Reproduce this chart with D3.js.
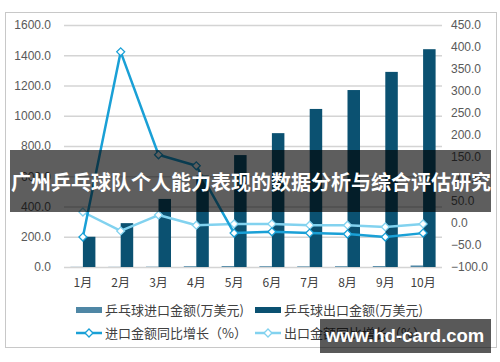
<!DOCTYPE html>
<html><head><meta charset="utf-8">
<script src="https://cdn.jsdelivr.net/npm/d3@7"></script>
<style>body{margin:0;background:#fff}svg{display:block}</style>
</head><body>
<script>
const categories = ["1月","2月","3月","4月","5月","6月","7月","8月","9月","10月"];
const importAmount = [1,1,2,5,6,5,4,5,6,10];
const exportAmount = [200,290,450,605,740,885,1045,1170,1290,1440];
const importGrowth = [-32,389,155,130,-23,-20,-23,-25,-32,-23];
const exportGrowth = [25,-18,18,-5,-2,-2,-5,-5,-9,-2];
const leftTicks = [0,200,400,600,800,1000,1200,1400,1600];
const rightTicks = [-100,-50,0,50,100,150,200,250,300,350,400,450];
const seriesNames = ["乒乓球进口金额(万美元)","乒乓球出口金额(万美元)","进口金额同比增长（%）","出口金额同比增长（%）"];
const title = "广州乒乓球队个人能力表现的数据分析与综合评估研究";
const watermark = "www.hd-card.com";

const colors = {imp:"#4f87a5", exp:"#0b5171", impLine:"#1aa0d6", expLine:"#82d2ef"};
const W=500,H=362;
const svg=d3.select("body").append("svg").attr("width",W).attr("height",H);
const latin="'Liberation Sans', Arial, sans-serif";
const cjk="'Noto Sans CJK SC', sans-serif";

svg.append("rect").attr("x",5.5).attr("y",12.5).attr("width",491).attr("height",335)
  .attr("fill","#fff").attr("stroke","#c8c8c8");

const x0=64,x1=442,yTop=25,yBot=267;
const x=d3.scaleBand().domain(categories).range([x0,x1]).padding(0);
const yL=d3.scaleLinear().domain([0,1600]).range([yBot,yTop]);
const yR=d3.scaleLinear().domain([-100,450]).range([yBot,yTop]);
const xs=d3.scaleBand().domain(["imp","exp"]).range([-12.5,12.5]).padding(0);

// grid
const grid=svg.append("g").attr("transform",`translate(${x0},0)`)
  .call(d3.axisLeft(yL).tickValues(leftTicks).tickSize(-(x1-x0)).tickFormat(""));
grid.select(".domain").remove();
grid.selectAll("line").attr("stroke","#d4d4d4").attr("stroke-width",1.5);

// left axis labels
const gl=svg.append("g").attr("transform",`translate(51,0)`)
  .call(d3.axisLeft(yL).tickValues(leftTicks).tickSize(0).tickPadding(0).tickFormat(d3.format(".1f")));
gl.select(".domain").remove();
gl.selectAll("text").attr("font-family",latin).attr("font-size",12).attr("fill","#595959");

const gr=svg.append("g").attr("transform",`translate(451,0)`)
  .call(d3.axisRight(yR).tickValues(rightTicks).tickSize(0).tickPadding(0).tickFormat(d3.format(".1f")));
gr.select(".domain").remove();
gr.selectAll("text").attr("font-family",latin).attr("font-size",12).attr("fill","#595959");

// x axis labels
const gx=svg.append("g").attr("transform",`translate(0,${yBot})`)
  .call(d3.axisBottom(x).tickSize(0).tickPadding(11));
gx.select(".domain").remove();
gx.selectAll("text").attr("font-family",cjk).attr("font-size",12).attr("fill","#404040");

// bars
const cx=d=>x(d)+x.bandwidth()/2;
svg.append("g").selectAll("rect").data(categories).join("rect")
  .attr("x",(d)=>cx(d)+xs("imp")).attr("width",xs.bandwidth())
  .attr("y",(d,i)=>yL(importAmount[i])).attr("height",(d,i)=>yBot-yL(importAmount[i]))
  .attr("fill",colors.imp);
svg.append("g").selectAll("rect").data(categories).join("rect")
  .attr("x",(d)=>cx(d)+xs("exp")).attr("width",xs.bandwidth())
  .attr("y",(d,i)=>yL(exportAmount[i])).attr("height",(d,i)=>yBot-yL(exportAmount[i]))
  .attr("fill",colors.exp);

// lines
const diamond=d3.symbol().type(d3.symbolDiamond2).size(40);
function drawLine(vals,color){
  const line=d3.line().x((d,i)=>cx(categories[i])).y(d=>yR(d));
  svg.append("path").datum(vals).attr("d",line).attr("fill","none")
    .attr("stroke",color).attr("stroke-width",2.5).attr("stroke-linejoin","round");
  svg.append("g").selectAll("path").data(vals).join("path")
    .attr("transform",(d,i)=>`translate(${cx(categories[i])},${yR(d)})`)
    .attr("d",diamond).attr("fill","#fff").attr("stroke",color).attr("stroke-width",1.3);
}
drawLine(exportGrowth,colors.expLine);
drawLine(importGrowth,colors.impLine);

// legend
const leg=svg.append("g").attr("font-family",cjk).attr("font-size",13).attr("fill","#404040");
const legItems=[
  {x:76,y:310,type:"bar",color:colors.imp,name:seriesNames[0]},
  {x:255,y:310,type:"bar",color:colors.exp,name:seriesNames[1]},
  {x:76,y:333,type:"line",color:colors.impLine,name:seriesNames[2]},
  {x:255,y:333,type:"line",color:colors.expLine,name:seriesNames[3]}
];
legItems.forEach(it=>{
  if(it.type==="bar"){
    leg.append("rect").attr("x",it.x).attr("y",it.y-3).attr("width",26).attr("height",6).attr("fill",it.color);
  } else {
    leg.append("line").attr("x1",it.x).attr("x2",it.x+26).attr("y1",it.y).attr("y2",it.y)
      .attr("stroke",it.color).attr("stroke-width",2.5);
    leg.append("path").attr("transform",`translate(${it.x+13},${it.y})`).attr("d",diamond)
      .attr("fill","#fff").attr("stroke",it.color).attr("stroke-width",1.3);
  }
  leg.append("text").attr("x",it.x+29).attr("y",it.y).attr("dy","0.35em").text(it.name);
});

// banner
svg.append("rect").attr("x",10).attr("y",150).attr("width",481).attr("height",62).attr("fill","rgba(0,0,0,0.63)");
svg.append("text").attr("x",251).attr("y",183).attr("dy","0.35em").attr("text-anchor","middle")
  .attr("font-family",cjk).attr("font-weight","bold").attr("font-size",20).attr("fill","#fff").text(title);

// watermark
svg.append("rect").attr("x",320).attr("y",319).attr("width",171).attr("height",34).attr("fill","rgba(0,0,0,0.65)");
svg.append("text").attr("x",405).attr("y",336).attr("dy","0.35em").attr("text-anchor","middle")
  .attr("font-family",latin).attr("font-weight","bold").attr("font-size",18.5).attr("fill","#fff").text(watermark);
</script>
</body></html>
